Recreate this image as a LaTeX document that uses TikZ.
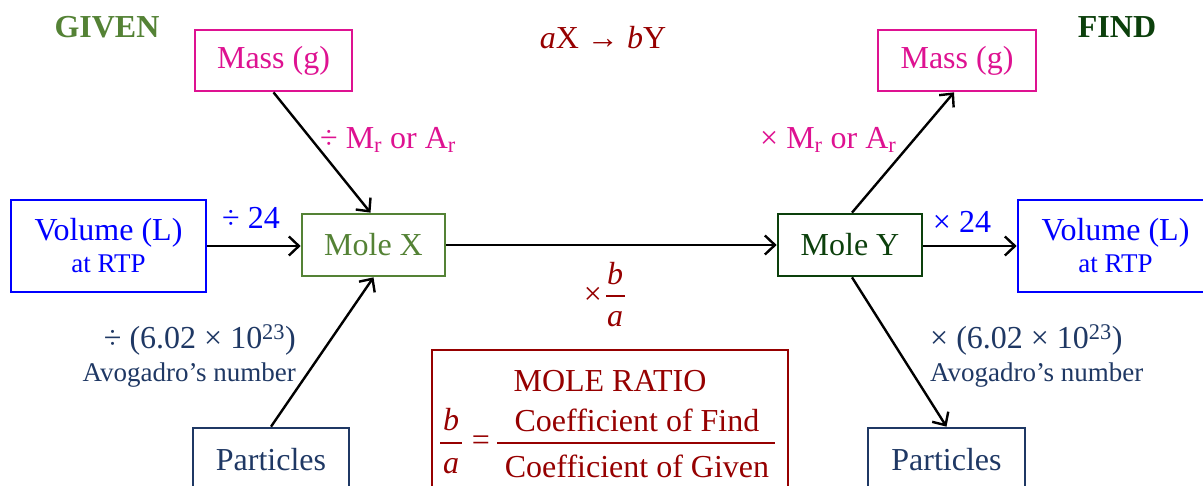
\documentclass[tikz,border=0pt]{standalone}
\usepackage{fontspec}
\setmainfont{Liberation Serif}
\usetikzlibrary{arrows.meta}
\definecolor{mag}{RGB}{222,18,145}
\definecolor{vblue}{RGB}{0,0,255}
\definecolor{mgreen}{RGB}{84,130,53}
\definecolor{dkgreen}{RGB}{12,64,12}
\definecolor{navy}{RGB}{31,56,100}
\definecolor{dkred}{RGB}{150,0,0}
\begin{document}
\begin{tikzpicture}[x=1pt,y=-1pt,
  font=\fontsize{32}{34}\selectfont,
  box/.style={draw, line width=2.7pt, inner sep=0pt, align=center},
  smallf/.style={font=\fontsize{27}{29}\selectfont},
  arr/.style={line width=2.4pt, draw=black, -{Straight Barb[length=10pt,width=19pt,line width=2.4pt]}},
  lbl/.style={inner sep=0pt},
  rule/.style={draw=dkred, line width=1.4pt}]
\useasboundingbox (0,0) rectangle (1203,485);
\clip (0,0) rectangle (1203,485);

% headings
\node[lbl, text=mgreen, font=\fontsize{32}{34}\selectfont\bfseries] (given) at (107,27) {GIVEN};
\node[lbl, text=dkgreen, font=\fontsize{32}{34}\selectfont\bfseries] (find) at (1117,27) {FIND};
\node[lbl, text=dkred] (eqn) at (603,38) {\textit{a}X → \textit{b}Y};

% left boxes
\node[box, draw=mag, text=mag, minimum width=157pt, minimum height=61pt] (massL) at (273.5,60.5) {Mass (g)};
\node[box, draw=vblue, text=vblue, minimum width=195pt, minimum height=92pt] (volL) at (108.5,246) {Volume (L)\\[-2pt]{\fontsize{27}{29}\selectfont at RTP}};
\node[box, draw=navy, text=navy, minimum width=156pt, minimum height=64pt] (partL) at (271,460) {Particles};
\node[box, draw=mgreen, text=mgreen, minimum width=143pt, minimum height=62pt] (molex) at (373.5,245) {Mole X};

% right boxes
\node[box, draw=dkgreen, text=dkgreen, minimum width=144pt, minimum height=62pt] (moley) at (850,245) {Mole Y};
\node[box, draw=mag, text=mag, minimum width=158pt, minimum height=61pt] (massR) at (957,60.5) {Mass (g)};
\node[box, draw=vblue, text=vblue, minimum width=195pt, minimum height=92pt] (volR) at (1115.5,246) {Volume (L)\\[-2pt]{\fontsize{27}{29}\selectfont at RTP}};
\node[box, draw=navy, text=navy, minimum width=157pt, minimum height=64pt] (partR) at (946.5,460) {Particles};

% mole ratio box
\node[box, draw=dkred, minimum width=356pt, minimum height=142pt] (ratio) at (610,421) {};
\node[lbl, text=dkred] (ratiot) at (610,381) {MOLE RATIO};
\node[lbl, text=dkred, font=\fontsize{32}{34}\selectfont\itshape] (rb) at (451,420) {b};
\node[lbl, text=dkred, font=\fontsize{32}{34}\selectfont\itshape] (ra) at (451,466) {a};
\draw[rule] (440,443) -- (462,443);
\node[lbl, text=dkred] (req) at (481,443) {=};
\node[lbl, text=dkred] (rnum) at (637,420) {Coefficient of Find};
\node[lbl, text=dkred] (rden) at (637,466) {Coefficient of Given};
\draw[rule] (497,443) -- (775,443);

% connectors
\draw[arr] (massL.south) -- ([xshift=-3pt]molex.north);
\draw[arr] (volL.east) -- (molex.west |- volL.east);
\draw[arr] (partL.north) -- (molex.south);
\draw[arr] (molex.east) -- (moley.west);
\draw[arr] ([xshift=2pt]moley.north) -- ([xshift=-3pt]massR.south);
\draw[arr] (moley.east |- volR.west) -- (volR.west);
\draw[arr] ([xshift=2pt]moley.south) -- (partR.north);

% labels
\node[lbl, text=mag, anchor=west] (l1) at (320,140) {÷ M\textsubscript{r} or A\textsubscript{r}};
\node[lbl, text=vblue] (l2) at (251,218) {÷ 24};
\node[lbl, text=navy, anchor=east] (l3) at (296,340) {÷ (6.02 × 10\textsuperscript{23})};
\node[lbl, text=navy, anchor=east, smallf] (l4) at (296,375) {Avogadro’s number};
\node[lbl, text=dkred] (mx) at (593,296) {×};
\node[lbl, text=dkred, font=\fontsize{32}{34}\selectfont\itshape] (mb) at (615,274) {b};
\node[lbl, text=dkred, font=\fontsize{32}{34}\selectfont\itshape] (ma) at (615,319) {a};
\draw[rule] (606,296) -- (625,296);
\node[lbl, text=mag, anchor=west] (r1) at (760,140) {× M\textsubscript{r} or A\textsubscript{r}};
\node[lbl, text=vblue] (r2) at (962,222) {× 24};
\node[lbl, text=navy, anchor=west] (r3) at (930,340) {× (6.02 × 10\textsuperscript{23})};
\node[lbl, text=navy, anchor=west, smallf] (r4) at (930,375) {Avogadro’s number};
\end{tikzpicture}
\end{document}
